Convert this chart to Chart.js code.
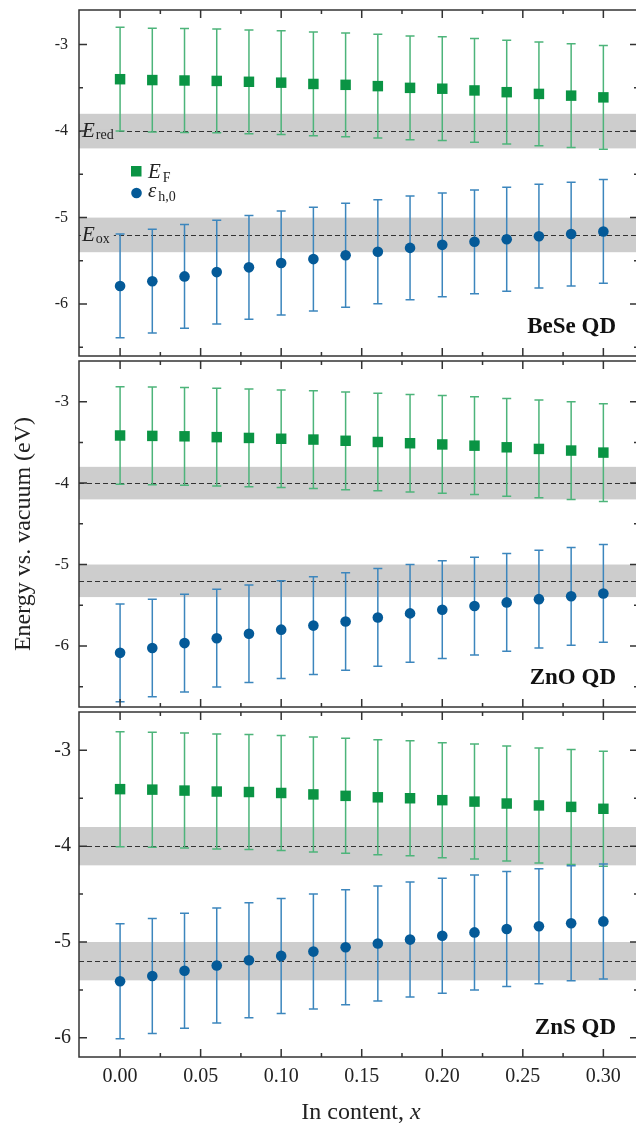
<!DOCTYPE html>
<html><head><meta charset="utf-8">
<script src="https://cdn.jsdelivr.net/npm/chart.js@4.4.1/dist/chart.umd.min.js"></script>
<style>
html,body{margin:0;padding:0;background:#fff;}
#wrap{position:relative;width:636px;height:1126px;overflow:hidden;background:#fff;}
canvas{position:absolute;left:0;top:0;}
</style></head><body>
<div id="wrap">
<canvas id="c1" width="638" height="1126"></canvas>
<canvas id="c2" width="638" height="1126"></canvas>
<canvas id="c3" width="638" height="1126"></canvas>
</div>
<script>
// ---------- data ----------
const xValues = [0.00,0.02,0.04,0.06,0.08,0.10,0.12,0.14,0.16,0.18,0.20,0.22,0.24,0.26,0.28,0.30];
const beseFermi = [-3.40,-3.41,-3.415,-3.42,-3.43,-3.44,-3.455,-3.465,-3.48,-3.50,-3.51,-3.53,-3.55,-3.57,-3.59,-3.61];
const beseHole  = [-5.79,-5.735,-5.68,-5.63,-5.575,-5.525,-5.48,-5.435,-5.395,-5.35,-5.315,-5.28,-5.25,-5.215,-5.19,-5.16];
const znoFermi  = [-3.415,-3.42,-3.425,-3.435,-3.445,-3.455,-3.465,-3.48,-3.495,-3.51,-3.525,-3.54,-3.56,-3.58,-3.60,-3.625];
const znoHole   = [-6.085,-6.025,-5.965,-5.905,-5.85,-5.80,-5.75,-5.70,-5.65,-5.60,-5.555,-5.51,-5.465,-5.425,-5.39,-5.355];
const znsFermi  = [-3.405,-3.41,-3.42,-3.43,-3.435,-3.445,-3.46,-3.475,-3.49,-3.50,-3.52,-3.535,-3.555,-3.575,-3.59,-3.61];
const znsHole   = [-5.41,-5.355,-5.30,-5.245,-5.19,-5.145,-5.10,-5.055,-5.015,-4.975,-4.935,-4.90,-4.865,-4.835,-4.805,-4.785];
const fermiError = [0.6,0.6,0.6,0.6,0.6,0.6,0.6,0.6,0.6,0.6,0.6,0.6,0.6,0.6,0.6,0.6];
const holeError  = [0.6,0.6,0.6,0.6,0.6,0.6,0.6,0.6,0.6,0.6,0.6,0.6,0.6,0.6,0.6,0.6];
const panelNames = ['BeSe QD','ZnO QD','ZnS QD'];
const xMajorTicks = [0.00,0.05,0.10,0.15,0.20,0.25,0.30];
const xMinorTicks = [0.025,0.075,0.125,0.175,0.225,0.275];
const yMajorTicks = [-6,-5,-4,-3];
const yMinorTicks = [-6.5,-5.5,-4.5,-3.5];
const redoxLevels = [-4.0,-5.2];      // E_red, E_ox
const redoxWidth = [0.2,0.2];         // half-width of grey bands
const redoxNames = ['red','ox'];

// ---------- style ----------
const SERIF = '"Liberation Serif", "DejaVu Serif", serif';
const GREEN = '#0a9444', GREEN_BAR = '#4db47a';
const BLUE = '#045a98', BLUE_BAR = '#3c86bd';
const BAND = '#cdcdcd', FRAME = '#333333', TEXT = '#222222';

const panelPlugin = {
  id: 'panel',
  beforeDatasetsDraw(chart) {
    const {ctx, chartArea: a, scales: {x, y}} = chart;
    const o = chart.options.plugins.panel;
    ctx.save();
    ctx.fillStyle = BAND;
    redoxLevels.forEach((v, i) => {
      const y1 = y.getPixelForValue(v + redoxWidth[i]), y2 = y.getPixelForValue(v - redoxWidth[i]);
      ctx.fillRect(a.left, y1, a.right - a.left, y2 - y1);
    });
    ctx.strokeStyle = '#333333'; ctx.lineWidth = 1; ctx.setLineDash([5, 3]);
    redoxLevels.forEach(v => {
      const py = Math.round(y.getPixelForValue(v)) + 0.5;
      ctx.beginPath(); ctx.moveTo(a.left, py); ctx.lineTo(a.right, py); ctx.stroke();
    });
    ctx.setLineDash([]);
    if (o.levelLabels) {
      redoxLevels.forEach((v, i) => {
        const py = y.getPixelForValue(v);
        ctx.font = 'italic 21px ' + SERIF;
        const w1 = ctx.measureText('E').width;
        ctx.font = '14px ' + SERIF;
        const w2 = ctx.measureText(redoxNames[i]).width;
        ctx.fillStyle = BAND;
        ctx.fillRect(a.left + 2, py - 2, w1 + w2 + 6, 4);
        ctx.fillStyle = TEXT;
        ctx.font = 'italic 21px ' + SERIF;
        ctx.fillText('E', a.left + 3, py + 6);
        ctx.font = '14px ' + SERIF;
        ctx.fillText(redoxNames[i], a.left + 4 + w1, py + 8);
      });
    }
    chart.data.datasets.forEach(ds => {
      ctx.strokeStyle = ds.errorColor; ctx.lineWidth = 1.5;
      ds.data.forEach((p, i) => {
        const px = x.getPixelForValue(p.x);
        const t = y.getPixelForValue(p.y + ds.errors[i]);
        const b = y.getPixelForValue(p.y - ds.errors[i]);
        ctx.beginPath();
        ctx.moveTo(px, t); ctx.lineTo(px, b);
        ctx.moveTo(px - 4.5, t); ctx.lineTo(px + 4.5, t);
        ctx.moveTo(px - 4.5, b); ctx.lineTo(px + 4.5, b);
        ctx.stroke();
      });
    });
    ctx.restore();
  },
  afterDraw(chart) {
    const {ctx, chartArea: a, scales: {x, y}} = chart;
    const o = chart.options.plugins.panel;
    ctx.save();
    ctx.strokeStyle = FRAME; ctx.lineWidth = 1.5;
    ctx.strokeRect(a.left, a.top, a.right - a.left, a.bottom - a.top);
    const tick = (vals, len, horiz) => {
      vals.forEach(v => {
        if (horiz) {
          const px = x.getPixelForValue(v);
          if (px < a.left || px > a.right) return;
          ctx.beginPath();
          ctx.moveTo(px, a.bottom); ctx.lineTo(px, a.bottom - len);
          ctx.moveTo(px, a.top); ctx.lineTo(px, a.top + len);
          ctx.stroke();
        } else {
          const py = y.getPixelForValue(v);
          if (py < a.top || py > a.bottom) return;
          ctx.beginPath();
          ctx.moveTo(a.left, py); ctx.lineTo(a.left + len, py);
          ctx.moveTo(a.right, py); ctx.lineTo(a.right - len, py);
          ctx.stroke();
        }
      });
    };
    tick(xMajorTicks, 8, true); tick(xMinorTicks, 4, true);
    tick(yMajorTicks, 8, false); tick(yMinorTicks, 4, false);
    ctx.fillStyle = '#111';
    ctx.font = 'bold 23px ' + SERIF;
    ctx.textAlign = 'right';
    ctx.fillText(o.name, 616, a.bottom - 23);
    ctx.textAlign = 'left';
    if (o.legend) {
      const ds = chart.data.datasets;
      ctx.fillStyle = ds[0].backgroundColor;
      ctx.fillRect(131, 166, 10.5, 10.5);
      ctx.fillStyle = ds[1].backgroundColor;
      ctx.beginPath(); ctx.arc(136.5, 193, 5.3, 0, Math.PI * 2); ctx.fill();
      ctx.fillStyle = TEXT;
      ctx.font = 'italic 21px ' + SERIF;
      ctx.fillText('E', 148, 178);
      let w = ctx.measureText('E').width;
      ctx.font = '14px ' + SERIF;
      ctx.fillText('F', 150 + w, 182);
      ctx.font = 'italic 21px ' + SERIF;
      ctx.fillText('\u03b5', 148, 197);
      w = ctx.measureText('\u03b5').width;
      ctx.font = '14px ' + SERIF;
      ctx.fillText('h,0', 150 + w, 201);
    }
    if (o.xTitle) {
      ctx.font = '24px ' + SERIF;
      const w1 = ctx.measureText('In content, ').width;
      ctx.font = 'italic 24px ' + SERIF;
      const w2 = ctx.measureText('x').width;
      const x0 = 361 - (w1 + w2) / 2;
      ctx.fillStyle = TEXT;
      ctx.font = '24px ' + SERIF;
      ctx.fillText('In content, ', x0, 1119);
      ctx.font = 'italic 24px ' + SERIF;
      ctx.fillText('x', x0 + w1, 1119);
    }
    ctx.restore();
  }
};

function makePanel(id, cfg) {
  return new Chart(document.getElementById(id), {
    type: 'scatter',
    data: {
      datasets: [
        { label: 'E_F', data: xValues.map((v, i) => ({x: v, y: cfg.fermi[i]})),
          pointStyle: 'rect', pointRadius: 7.4, pointHoverRadius: 7.4,
          backgroundColor: GREEN, borderColor: GREEN, borderWidth: 0,
          errors: fermiError, errorColor: GREEN_BAR },
        { label: 'eps_h0', data: xValues.map((v, i) => ({x: v, y: cfg.hole[i]})),
          pointStyle: 'circle', pointRadius: 5.3, pointHoverRadius: 5.3,
          backgroundColor: BLUE, borderColor: BLUE, borderWidth: 0,
          errors: holeError, errorColor: BLUE_BAR }
      ]
    },
    options: {
      responsive: false, animation: false, devicePixelRatio: 1,
      layout: { autoPadding: false, padding: { top: cfg.top, bottom: cfg.padBottom, left: 0, right: 0 } },
      plugins: {
        legend: { display: false }, tooltip: { enabled: false },
        panel: { name: cfg.name, legend: cfg.legend, levelLabels: cfg.legend, xTitle: cfg.showX }
      },
      scales: {
        x: {
          type: 'linear', min: -0.0255, max: 0.3215, display: cfg.showX,
          grid: { display: false, drawTicks: false }, border: { display: false },
          afterBuildTicks: s => { s.ticks = xMajorTicks.map(v => ({value: v})); },
          afterFit: s => { s.height = cfg.xAxisHeight; s.paddingLeft = 0; s.paddingRight = 0; },
          ticks: { callback: v => Number(v).toFixed(2), font: { family: SERIF, size: 20 }, color: TEXT,
                   padding: 8, maxRotation: 0, autoSkip: false }
        },
        y: {
          type: 'linear', min: cfg.ymin, max: cfg.ymax,
          grid: { display: false, drawTicks: false }, border: { display: false },
          afterBuildTicks: s => { s.ticks = yMajorTicks.map(v => ({value: v})); },
          afterFit: s => { s.width = 79; s.paddingTop = 0; s.paddingBottom = 0; },
          ticks: { callback: v => String(v), font: { family: SERIF, size: cfg.tickSize }, color: TEXT,
                   padding: cfg.tickPad, autoSkip: false },
          title: { display: cfg.yTitle, text: 'Energy vs. vacuum (eV)', color: TEXT,
                   font: { family: SERIF, size: 24 }, padding: { top: 9, bottom: 0 } }
        }
      }
    },
    plugins: [panelPlugin]
  });
}

makePanel('c1', { name: panelNames[0], fermi: beseFermi, hole: beseHole, ymin: -6.6, ymax: -2.6,
  top: 10, padBottom: 1126 - 356, showX: false, xAxisHeight: 0, legend: true, yTitle: false, tickSize: 16, tickPad: 11 });
makePanel('c2', { name: panelNames[1], fermi: znoFermi, hole: znoHole, ymin: -6.75, ymax: -2.5,
  top: 361, padBottom: 1126 - 707, showX: false, xAxisHeight: 0, legend: false, yTitle: true, tickSize: 17, tickPad: 10 });
makePanel('c3', { name: panelNames[2], fermi: znsFermi, hole: znsHole, ymin: -6.2, ymax: -2.6,
  top: 712, padBottom: 0, showX: true, xAxisHeight: 69, legend: false, yTitle: false, tickSize: 20, tickPad: 8 });
</script>
</body></html>
